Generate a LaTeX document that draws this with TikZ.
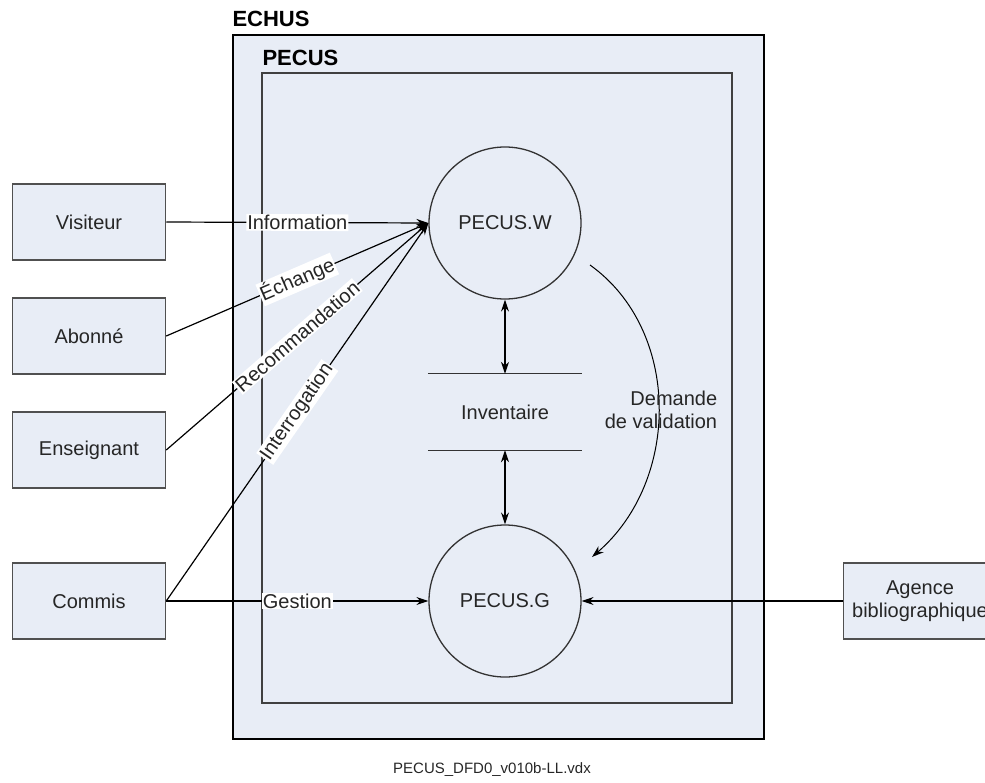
\documentclass[tikz,border=0pt]{standalone}
\usepackage{fontspec}
\setmainfont{Liberation Sans}
\usepackage{tikz}
\usetikzlibrary{shapes.geometric, arrows.meta}
\definecolor{pecusfill}{RGB}{232,237,246}
\definecolor{boxline}{RGB}{80,80,80}
\tikzstyle{entity} = [draw=boxline,line width=1.5pt,fill=pecusfill,minimum width=153pt,minimum height=76pt,inner sep=0pt,align=center,text=black!85,font=\fontsize{20}{23}\selectfont]
\tikzstyle{process} = [circle,draw=black!80,line width=1.3pt,minimum size=152pt,inner sep=0pt,text=black!85,font=\fontsize{20}{23}\selectfont]
\tikzstyle{flow} = [line width=1.2pt,->,>={Stealth[length=12pt,width=8pt]}]
\tikzstyle{flowlabel} = [fill=white,inner sep=1pt,sloped,text=black!85,font=\fontsize{20}{23}\selectfont]

\begin{document}
\begin{tikzpicture}[x=1pt,y=-1pt]
	\useasboundingbox (0,0) rectangle (985,782);
	\begin{scope}
		
		% Frontieres:
		% La boite ECHUS contient la boite PECUS
		\draw[line width=2.5pt, fill=pecusfill] (233,35) rectangle (764,739);
		\draw[line width=2pt, draw=black!75, fill=pecusfill] (262,73) rectangle (732,703);
		\node[anchor=west, font=\bfseries\fontsize{22}{24}\selectfont] (echus) at (229,19) {ECHUS};
		\node[anchor=west, font=\bfseries\fontsize{22}{24}\selectfont] (pecus) at (259,58) {PECUS};
		
		% Entites externes:
		\node[entity] (visiteur) at (89,222) {Visiteur};
		\node[entity] (abonne) at (89,336) {Abonné};
		\node[entity] (enseignant) at (89,450) {Enseignant};
		\node[entity] (commis) at (89,601) {Commis};
		\node[entity] (agence) at (920,601) {Agence\\bibliographique};
		
		% Processus et depot:
		\node[process] (pw) at (505,223) {PECUS.W};
		\node[process] (pg) at (505,601) {PECUS.G};
		\node[minimum width=154pt, minimum height=76pt, inner sep=0pt, text=black!85, font=\fontsize{20}{23}\selectfont] (inv) at (505,412) {Inventaire};
		\draw[line width=1.3pt, black!80] (inv.north west) -- (inv.north east);
		\draw[line width=1.3pt, black!80] (inv.south west) -- (inv.south east);
		
		% Flux:
		\draw[flow] (visiteur.east) -- node[flowlabel] {Information} (pw.west);
		\draw[flow] (abonne.east) -- node[flowlabel] {Échange} (pw.west);
		\draw[flow] (enseignant.east) -- node[flowlabel] {Recommandation} (pw.west);
		\draw[flow] (commis.east) -- node[flowlabel] {Interrogation} (pw.west);
		\draw[flow] (commis.east) -- node[flowlabel] {Gestion} (pg.west);
		\draw[flow] (agence.west) -- (pg.east);
		\draw[flow, <->] (pw.south) -- (inv.north);
		\draw[flow, <->] (inv.south) -- (pg.north);
		
		% Demande de validation:
		\coordinate (dvstart) at (590,265);
		\coordinate (dvend) at (592,557);
		\draw[flow, line width=1pt] (dvstart) .. controls (681,330) and (681,480) .. (dvend);
		\node[align=right, text=black!85, font=\fontsize{20}{23}\selectfont] (dvlabel) at (661,410) {Demande\\de validation};
		
		\node[text=black!85, font=\fontsize{15}{17}\selectfont] (fichier) at (492,770) {PECUS\_DFD0\_v010b-LL.vdx};
		
	\end{scope}
\end{tikzpicture}
\end{document}
